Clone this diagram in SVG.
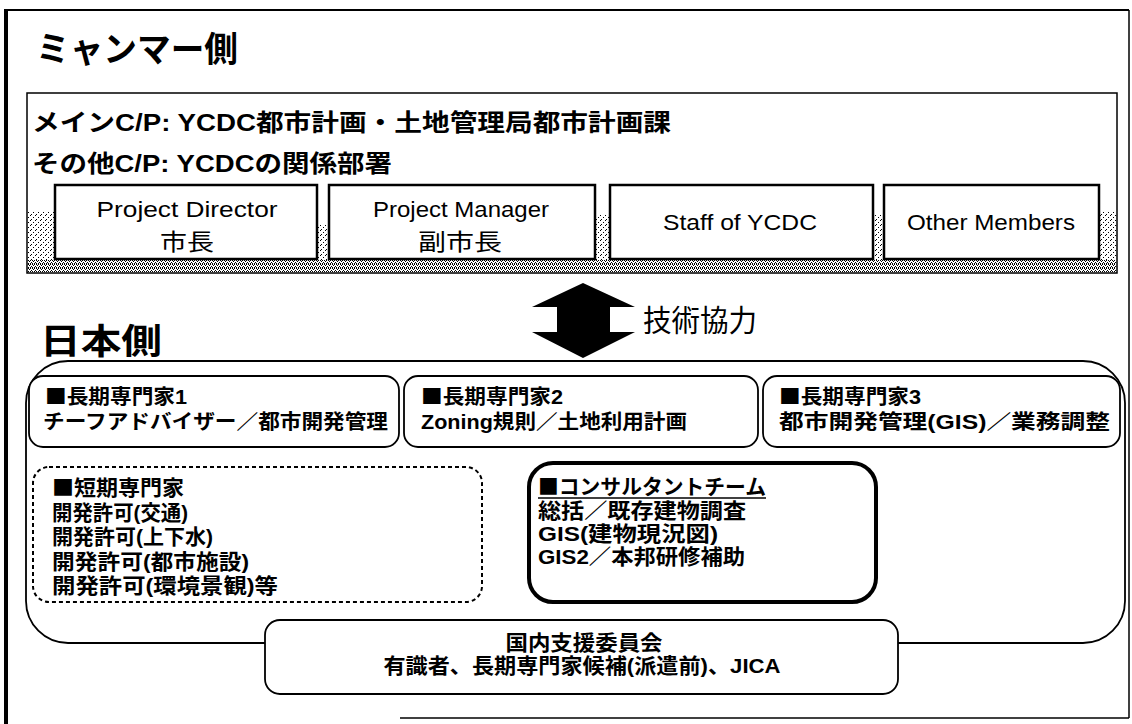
<svg xmlns="http://www.w3.org/2000/svg" width="1132" height="724" viewBox="0 0 1132 724">
<style>
  .t{font-family:"Liberation Sans","Noto Sans CJK JP",sans-serif;fill:#000}
  .b{font-weight:bold}
  .sq{font-family:"Noto Sans CJK JP",sans-serif}
  .box{fill:#fff;stroke:#000;stroke-width:2.5}
  .rbox{fill:#fff;stroke:#000;stroke-width:1.8}
  .frame{fill:none;stroke:#000}
</style>
<defs>
  <pattern id="stipD" width="4" height="4" patternUnits="userSpaceOnUse">
    <rect width="4" height="4" fill="#fff"/>
    <rect x="0" y="0" width="1" height="1" fill="#000"/>
    <rect x="2" y="0" width="1" height="1" fill="#000"/>
    <rect x="1" y="1" width="1" height="1" fill="#000"/>
    <rect x="3" y="2" width="1" height="1" fill="#000"/>
    <rect x="0" y="3" width="1" height="1" fill="#000"/>
    <rect x="2" y="3" width="1" height="1" fill="#000"/>
  </pattern>
  <pattern id="stipL" width="5" height="5" patternUnits="userSpaceOnUse">
    <rect width="5" height="5" fill="#fff"/>
    <rect x="0" y="0" width="1" height="1" fill="#000"/>
    <rect x="3" y="2" width="1" height="1" fill="#000"/>
    <rect x="1" y="4" width="1" height="1" fill="#000"/>
  </pattern>
</defs>
<rect width="1132" height="724" fill="#fff"/>

<!-- outer frame -->
<g id="frame">
  <line class="frame" x1="6" y1="9" x2="6" y2="724" stroke-width="4"/>
  <line class="frame" x1="5" y1="10" x2="1129" y2="10" stroke-width="2"/>
  <line class="frame" x1="1129" y1="10" x2="1129" y2="718" stroke-width="1.5"/>
  <line class="frame" x1="400" y1="718" x2="1129" y2="718" stroke-width="1.5"/>
</g>

<!-- Myanmar side -->
<g id="myanmar">
  <text class="t b" x="36" y="62" font-size="35" textLength="202" lengthAdjust="spacingAndGlyphs">ミャンマー側</text>
  <rect x="27" y="93" width="1090" height="180" fill="#fff" stroke="#000" stroke-width="1.5"/>
  <rect x="28" y="260" width="1088" height="12" fill="url(#stipD)"/>
  <rect x="28" y="212" width="27" height="48" fill="url(#stipL)"/>
  <rect x="317" y="225" width="12" height="35" fill="url(#stipL)"/>
  <rect x="595" y="215" width="15" height="45" fill="url(#stipL)"/>
  <rect x="873" y="215" width="11" height="45" fill="url(#stipL)"/>
  <rect x="1099" y="212" width="17" height="48" fill="url(#stipL)"/>
  <text class="t b" x="32" y="131" font-size="24" textLength="639" lengthAdjust="spacingAndGlyphs">メインC/P: YCDC都市計画・土地管理局都市計画課</text>
  <text class="t b" x="32" y="172" font-size="24" textLength="360" lengthAdjust="spacingAndGlyphs">その他C/P: YCDCの関係部署</text>
</g>

<g id="pd">
  <rect class="box" x="55" y="185" width="262" height="74"/>
  <text class="t" x="187" y="217" font-size="22" text-anchor="middle" textLength="181" lengthAdjust="spacingAndGlyphs">Project Director</text>
  <text class="t" x="187" y="250" font-size="23" text-anchor="middle" textLength="54" lengthAdjust="spacingAndGlyphs">市長</text>
</g>
<g id="pm">
  <rect class="box" x="329" y="185" width="266" height="74"/>
  <text class="t" x="461" y="217" font-size="22" text-anchor="middle" textLength="176" lengthAdjust="spacingAndGlyphs">Project Manager</text>
  <text class="t" x="460" y="250" font-size="23" text-anchor="middle" textLength="84" lengthAdjust="spacingAndGlyphs">副市長</text>
</g>
<g id="staff">
  <rect class="box" x="610" y="185" width="263" height="74"/>
  <text class="t" x="740" y="230" font-size="22" text-anchor="middle" textLength="154" lengthAdjust="spacingAndGlyphs">Staff of YCDC</text>
</g>
<g id="others">
  <rect class="box" x="884" y="185" width="215" height="74"/>
  <text class="t" x="991" y="230" font-size="22" text-anchor="middle" textLength="168" lengthAdjust="spacingAndGlyphs">Other Members</text>
</g>

<!-- cooperation arrow -->
<g id="connectors">
  <polygon points="583,283 635,307 610,307 610,332 635,332 583,358 532,332 557,332 557,307 532,307" fill="#000"/>
  <text class="t" x="643" y="331" font-size="30" textLength="114" lengthAdjust="spacingAndGlyphs">技術協力</text>
</g>

<!-- Japan side -->
<g id="japan">
  <text class="t b" x="40" y="354" font-size="35" textLength="122" lengthAdjust="spacingAndGlyphs">日本側</text>
  <rect x="26" y="361" width="1099" height="282" rx="42" ry="42" fill="#fff" stroke="#000" stroke-width="1.8"/>
</g>

<g id="lt1">
  <rect class="rbox" x="29" y="376" width="370" height="71" rx="14"/>
  <text class="t b" x="45" y="404" font-size="20" textLength="142" lengthAdjust="spacingAndGlyphs"><tspan class="sq">■</tspan>長期専門家1</text>
  <text class="t b" x="43" y="429" font-size="20" textLength="345" lengthAdjust="spacingAndGlyphs">チーフアドバイザー／都市開発管理</text>
</g>
<g id="lt2">
  <rect class="rbox" x="404" y="376" width="354" height="71" rx="14"/>
  <text class="t b" x="421" y="404" font-size="20" textLength="142" lengthAdjust="spacingAndGlyphs"><tspan class="sq">■</tspan>長期専門家2</text>
  <text class="t b" x="421" y="429" font-size="20" textLength="266" lengthAdjust="spacingAndGlyphs">Zoning規則／土地利用計画</text>
</g>
<g id="lt3">
  <rect class="rbox" x="763" y="376" width="357" height="71" rx="14"/>
  <text class="t b" x="779" y="404" font-size="20" textLength="142" lengthAdjust="spacingAndGlyphs"><tspan class="sq">■</tspan>長期専門家3</text>
  <text class="t b" x="779" y="429" font-size="20" textLength="331" lengthAdjust="spacingAndGlyphs">都市開発管理(GIS)／業務調整</text>
</g>

<g id="short">
  <rect x="33" y="467" width="449" height="135" rx="16" fill="#fff" stroke="#000" stroke-width="2" stroke-dasharray="4 3"/>
  <text class="t b" x="52" y="495" font-size="21" textLength="132" lengthAdjust="spacingAndGlyphs"><tspan class="sq">■</tspan>短期専門家</text>
  <text class="t b" x="52" y="519.5" font-size="21" textLength="136" lengthAdjust="spacingAndGlyphs">開発許可(交通)</text>
  <text class="t b" x="52" y="544" font-size="21" textLength="161" lengthAdjust="spacingAndGlyphs">開発許可(上下水)</text>
  <text class="t b" x="52" y="568.5" font-size="21" textLength="197" lengthAdjust="spacingAndGlyphs">開発許可(都市施設)</text>
  <text class="t b" x="52" y="593" font-size="21" textLength="226" lengthAdjust="spacingAndGlyphs">開発許可(環境景観)等</text>
</g>

<g id="consult">
  <rect x="529" y="463" width="347" height="139" rx="24" fill="#fff" stroke="#000" stroke-width="4"/>
  <text class="t b" x="538" y="494" font-size="21" textLength="228" lengthAdjust="spacingAndGlyphs"><tspan class="sq">■</tspan>コンサルタントチーム</text>
  <line x1="538" y1="498" x2="766" y2="498" stroke="#000" stroke-width="1.5"/>
  <text class="t b" x="538" y="518" font-size="21" textLength="208" lengthAdjust="spacingAndGlyphs">総括／既存建物調査</text>
  <text class="t b" x="538" y="541" font-size="21" textLength="180" lengthAdjust="spacingAndGlyphs">GIS(建物現況図)</text>
  <text class="t b" x="538" y="564" font-size="21" textLength="207" lengthAdjust="spacingAndGlyphs">GIS2／本邦研修補助</text>
</g>

<g id="domestic">
  <rect class="rbox" x="265" y="620" width="633" height="74" rx="15"/>
  <text class="t b" x="584" y="650" font-size="21" text-anchor="middle" textLength="157" lengthAdjust="spacingAndGlyphs">国内支援委員会</text>
  <text class="t b" x="582" y="673" font-size="21" text-anchor="middle" textLength="397" lengthAdjust="spacingAndGlyphs">有識者、長期専門家候補(派遣前)、JICA</text>
</g>
</svg>
